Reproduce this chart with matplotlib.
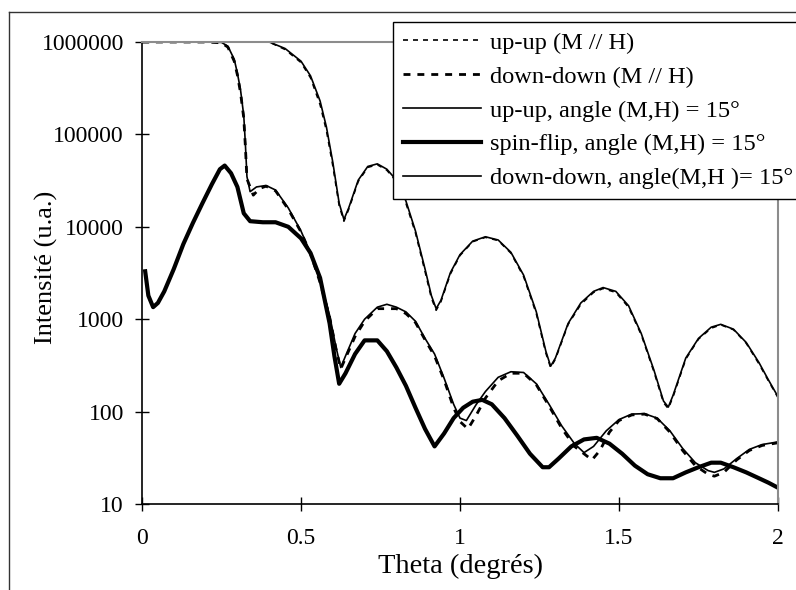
import matplotlib
matplotlib.use("Agg")
import matplotlib.pyplot as plt
from matplotlib.lines import Line2D

plt.rcParams['font.family'] = ['Liberation Serif', 'DejaVu Serif']

# up-up, angle (M,H) = 15 deg  (edge near 0.5)
uu15_x = [0.0, 0.1, 0.2, 0.3, 0.4, 0.45, 0.5, 0.53, 0.56, 0.58, 0.60, 0.62, 0.635,
          0.65, 0.68, 0.71, 0.74, 0.77, 0.80, 0.83, 0.86, 0.89, 0.91, 0.925, 0.94,
          0.97, 1.0, 1.04, 1.08, 1.12, 1.16, 1.20, 1.24, 1.27, 1.285, 1.30, 1.34,
          1.38, 1.42, 1.45, 1.49, 1.53, 1.57, 1.61, 1.64, 1.655, 1.67, 1.71, 1.75,
          1.79, 1.82, 1.86, 1.90, 1.94, 1.97, 2.0]
uu15_y = [1e6, 1e6, 1e6, 1e6, 1e6, 8.5e5, 6.2e5, 4.3e5, 2.3e5, 1.2e5, 5e4, 1.8e4, 1.2e4,
          1.6e4, 3.2e4, 4.5e4, 4.8e4, 4.2e4, 3.2e4, 1.9e4, 9e3, 3.5e3, 1.8e3, 1.3e3, 1.6e3,
          3.2e3, 5e3, 7e3, 7.8e3, 7.2e3, 5.3e3, 3e3, 1.2e3, 450, 310, 380, 900,
          1.5e3, 2.0e3, 2.2e3, 2.0e3, 1.4e3, 700, 280, 130, 112, 150, 380, 620,
          820, 880, 780, 560, 340, 220, 145]

# up-up (M // H)
uu0_x = [0.0, 0.1, 0.2, 0.3, 0.4, 0.45, 0.5, 0.53, 0.56, 0.58, 0.60, 0.62, 0.635,
         0.65, 0.68, 0.71, 0.74, 0.77, 0.80, 0.83, 0.86, 0.89, 0.91, 0.925, 0.94,
         0.97, 1.0, 1.04, 1.08, 1.12, 1.16, 1.20, 1.24, 1.27, 1.285, 1.30, 1.34,
         1.38, 1.42, 1.45, 1.49, 1.53, 1.57, 1.61, 1.64, 1.655, 1.67, 1.71, 1.75,
         1.79, 1.82, 1.86, 1.90, 1.94, 1.97, 2.0]
uu0_y = [1e6, 1e6, 1e6, 1e6, 1e6, 8.3e5, 6.0e5, 4.1e5, 2.1e5, 1.1e5, 4.6e4, 1.7e4, 1.15e4,
         1.55e4, 3.1e4, 4.4e4, 4.7e4, 4.1e4, 3.1e4, 1.8e4, 8.6e3, 3.3e3, 1.7e3, 1.25e3, 1.55e3,
         3.1e3, 4.9e3, 6.9e3, 7.7e3, 7.1e3, 5.2e3, 2.9e3, 1.15e3, 430, 300, 370, 880,
         1.45e3, 1.95e3, 2.15e3, 1.95e3, 1.35e3, 680, 270, 125, 108, 145, 370, 610,
         800, 870, 770, 550, 330, 215, 142]

# down-down, angle (M,H) = 15 deg  (edge near 0.3)
dd15_x = [0.0, 0.1, 0.2, 0.25, 0.27, 0.29, 0.30, 0.31, 0.32, 0.325, 0.33, 0.34, 0.36,
          0.39, 0.42, 0.46, 0.50, 0.53, 0.56, 0.59, 0.61, 0.625, 0.64, 0.67, 0.70,
          0.74, 0.77, 0.80, 0.83, 0.86, 0.89, 0.92, 0.95, 0.98, 1.0, 1.02, 1.05,
          1.08, 1.12, 1.16, 1.20, 1.24, 1.28, 1.32, 1.36, 1.39, 1.42, 1.46, 1.50,
          1.54, 1.58, 1.62, 1.66, 1.70, 1.74, 1.78, 1.80, 1.83, 1.87, 1.91, 1.95, 2.0]
dd15_y = [1e6, 1e6, 1e6, 9.9e5, 9e5, 6.5e5, 4.6e5, 3e5, 1.6e5, 8e4, 3.5e4, 2.4e4, 2.7e4,
          2.8e4, 2.5e4, 1.6e4, 9e3, 5.2e3, 2.6e3, 1.1e3, 500, 300, 400, 700, 1e3,
          1.35e3, 1.45e3, 1.35e3, 1.2e3, 950, 620, 420, 230, 120, 85, 80, 118,
          165, 235, 270, 265, 200, 120, 70, 45, 36, 42, 62, 82,
          94, 95, 85, 62, 40, 28, 23, 22, 24, 31, 39, 44, 47]

# down-down (M // H)
dd0_x = [0.0, 0.1, 0.2, 0.25, 0.27, 0.29, 0.30, 0.31, 0.32, 0.325, 0.33, 0.35, 0.37,
         0.39, 0.42, 0.46, 0.50, 0.53, 0.56, 0.59, 0.61, 0.625, 0.64, 0.67, 0.70,
         0.74, 0.77, 0.80, 0.83, 0.86, 0.89, 0.92, 0.95, 0.98, 1.0, 1.025, 1.05,
         1.08, 1.12, 1.16, 1.20, 1.24, 1.28, 1.32, 1.36, 1.415, 1.44, 1.47, 1.50,
         1.54, 1.58, 1.62, 1.66, 1.70, 1.74, 1.78, 1.80, 1.83, 1.87, 1.91, 1.95, 2.0]
dd0_y = [1e6, 1e6, 1e6, 9.8e5, 8.8e5, 6.2e5, 4.4e5, 2.8e5, 1.5e5, 7.5e4, 3.3e4, 2.2e4, 2.6e4,
         2.75e4, 2.45e4, 1.55e4, 8.8e3, 5.1e3, 2.5e3, 1.05e3, 480, 290, 380, 650, 950,
         1.3e3, 1.3e3, 1.3e3, 1.15e3, 920, 600, 400, 220, 110, 78, 65, 90,
         140, 215, 260, 260, 195, 115, 66, 42, 30, 38, 60, 80,
         92, 94, 84, 60, 38, 26, 21, 20, 22, 30, 38, 43, 46]

# spin-flip, angle (M,H) = 15 deg
sf_x = [0.01, 0.02, 0.035, 0.05, 0.07, 0.10, 0.13, 0.16, 0.19, 0.22, 0.245, 0.26, 0.28,
        0.30, 0.32, 0.34, 0.38, 0.42, 0.46, 0.50, 0.53, 0.56, 0.59, 0.605, 0.62,
        0.64, 0.67, 0.70, 0.74, 0.77, 0.80, 0.83, 0.86, 0.89, 0.92, 0.95, 0.98,
        1.01, 1.04, 1.07, 1.10, 1.14, 1.18, 1.22, 1.26, 1.28, 1.31, 1.35, 1.39,
        1.43, 1.47, 1.51, 1.55, 1.59, 1.63, 1.67, 1.71, 1.75, 1.79, 1.82, 1.86,
        1.90, 1.94, 1.97, 2.0]
sf_y = [3300, 1800, 1350, 1500, 2000, 3500, 6500, 1.1e4, 1.8e4, 2.9e4, 4.2e4, 4.6e4, 3.8e4,
        2.7e4, 1.4e4, 1.15e4, 1.12e4, 1.12e4, 1.0e4, 7.5e3, 5.2e3, 2.8e3, 900, 400, 200,
        260, 420, 590, 590, 450, 300, 190, 110, 65, 42, 58, 85,
        110, 128, 134, 120, 85, 55, 35, 25, 25, 31, 42, 50,
        52, 45, 35, 26, 21, 19, 19, 22, 25, 28, 28, 25,
        22, 19, 17, 15]

labels = ['up-up (M // H)', 'down-down (M // H)', 'up-up, angle (M,H) = 15°',
          'spin-flip, angle (M,H) = 15°', 'down-down, angle(M,H )= 15°']

fig = plt.figure(figsize=(7.96, 5.90), dpi=100)
ax = fig.add_axes([142 / 796, 1 - 504 / 590, (778 - 142) / 796, (504 - 42) / 590])

l1, = ax.plot(uu0_x, uu0_y, color='black', lw=1.2, linestyle=(0, (3, 3)))
l2, = ax.plot(dd0_x, dd0_y, color='black', lw=2.0, linestyle=(0, (2.5, 2.5)))
l3, = ax.plot(uu15_x, uu15_y, color='black', lw=1.2)
l4, = ax.plot(sf_x, sf_y, color='black', lw=3.0)
l5, = ax.plot(dd15_x, dd15_y, color='black', lw=1.2)

ax.set_yscale('log')
ax.set_xlim(0, 2)
ax.set_ylim(10, 1e6)
ax.set_xticks([0, 0.5, 1, 1.5, 2])
ax.set_xticklabels(['0', '0.5', '1', '1.5', '2'])
ax.set_yticks([10, 100, 1000, 10000, 100000, 1000000])
ax.set_yticklabels(['10', '100', '1000', '10000', '100000', '1000000'])
ax.minorticks_off()
ax.tick_params(direction='inout', length=10, width=1.0, labelsize=17, color='black')
ax.tick_params(axis='x', pad=12)
ax.tick_params(axis='y', pad=8)

for s in ['left', 'bottom']:
    ax.spines[s].set_color('black')
    ax.spines[s].set_linewidth(1.2)
for s in ['top', 'right']:
    ax.spines[s].set_color('#8c8c8c')
    ax.spines[s].set_linewidth(1.5)

ax.set_xlabel('Theta (degrés)', fontsize=20.5, labelpad=4)
ax.set_ylabel('Intensité (u.a.)', fontsize=19)
ax.yaxis.set_label_coords(-0.132, 0.513)

leg = fig.legend([l1, l2, l3, l4, l5], labels, loc='upper left',
                 bbox_to_anchor=(393 / 796, 1 - 22 / 590), fontsize=17.6,
                 frameon=True, fancybox=False, framealpha=1, edgecolor='black',
                 handlelength=3.2, handletextpad=0.35, labelspacing=0.48,
                 borderpad=0.4, borderaxespad=0)
leg.get_frame().set_linewidth(1.0)

# outer chart frame (partly cropped in the original)
fig.add_artist(Line2D([9 / 796, 9 / 796], [0, 1 - 12 / 590], color='#333333', lw=1.0,
                      transform=fig.transFigure))
fig.add_artist(Line2D([9 / 796, 1], [1 - 12 / 590, 1 - 12 / 590], color='#333333', lw=1.0,
                      transform=fig.transFigure))

fig.savefig('out.png', dpi=100)
